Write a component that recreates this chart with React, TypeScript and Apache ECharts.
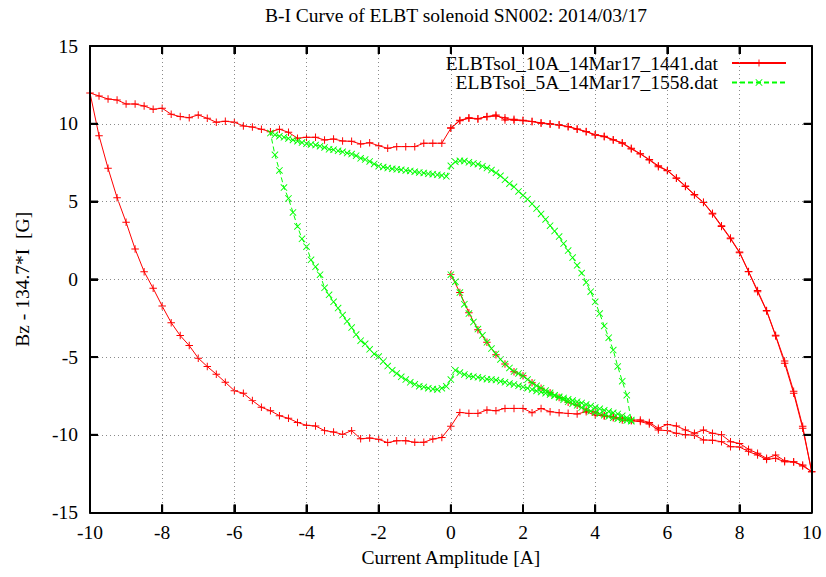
import React, { useEffect, useRef } from 'react';
import * as echarts from 'echarts';

const TITLE = 'B-I Curve of ELBT solenoid SN002: 2014/03/17';
const X_NAME = 'Current Amplitude [A]';
const Y_NAME = 'Bz - 134.7*I  [G]';
const RED_NAME = 'ELBTsol_10A_14Mar17_1441.dat';
const GREEN_NAME = 'ELBTsol_5A_14Mar17_1558.dat';
const X_TICKS = [-10, -8, -6, -4, -2, 0, 2, 4, 6, 8, 10];
const Y_TICKS = [-15, -10, -5, 0, 5, 10, 15];

// Red (10 A cycle): [current A, Bz - 134.7*I G]
const RED_VIRGIN = [[0,0.3],[0.25,-0.85],[0.5,-2.15],[0.75,-3.25],[1,-4.05],[1.25,-4.85],[1.5,-5.45],[1.75,-5.95],[2,-6.2],[2.25,-6.65],[2.5,-7.0],[2.75,-7.3],[3,-7.6],[3.25,-7.9],[3.5,-8.1],[3.75,-8.4],[4,-8.55],[4.25,-8.75],[4.5,-8.9],[4.75,-9.05],[5,-9.1],[5.25,-9.15],[5.5,-9.3],[5.75,-9.69],[6,-9.73],[6.25,-9.9],[6.5,-10.0],[6.75,-10.02],[7,-10.33],[7.25,-10.35],[7.5,-10.44],[7.75,-10.76],[8,-10.78],[8.25,-11.08],[8.5,-11.3],[8.75,-11.58],[9,-11.51],[9.25,-11.73],[9.5,-11.75],[9.75,-11.94],[10,-12.37]];
const RED_DOWN_1 = [[9.75,-9.58],[9.5,-7.33],[9.25,-5.4],[9,-3.65],[8.75,-2.04],[8.5,-0.8],[8.25,0.49],[8,1.71],[7.75,2.6],[7.5,3.4],[7.25,4.2],[7,4.93],[6.75,5.42],[6.5,5.96],[6.25,6.49],[6,6.98],[5.75,7.24],[5.5,7.67],[5.25,8.06],[5,8.38],[4.75,8.75],[4.5,8.96],[4.25,9.17],[4,9.28],[3.75,9.49],[3.5,9.65],[3.25,9.81],[3,9.92],[2.75,9.97],[2.5,10.03],[2.25,10.14],[2,10.2],[1.75,10.29],[1.5,10.24],[1.25,10.57],[1,10.46],[0.75,10.31],[0.5,10.35],[0.25,10.2],[0,9.71]];
const RED_UPPER_LEFT = [[-0.25,8.75],[-0.5,8.75],[-0.75,8.75],[-1,8.53],[-1.25,8.53],[-1.5,8.53],[-1.75,8.42],[-2,8.59],[-2.25,8.78],[-2.5,8.7],[-2.75,8.87],[-3,8.89],[-3.25,9.02],[-3.5,8.96],[-3.75,9.13],[-4,9.13],[-4.25,9.07],[-4.5,9.45],[-4.75,9.65],[-5,9.49],[-5.25,9.65],[-5.5,9.79],[-5.75,9.86],[-6,10.1],[-6.25,10.16],[-6.5,10.1],[-6.75,10.35],[-7,10.57],[-7.25,10.39],[-7.5,10.46],[-7.75,10.61],[-8,11.0],[-8.25,10.93],[-8.5,11.14],[-8.75,11.27],[-9,11.27],[-9.25,11.53],[-9.5,11.59],[-9.75,11.79],[-10,11.98]];
const RED_LOWER_LEFT = [[-9.75,9.23],[-9.5,7.14],[-9.25,5.25],[-9,3.67],[-8.75,1.95],[-8.5,0.49],[-8.25,-0.58],[-8,-1.72],[-7.75,-2.79],[-7.5,-3.62],[-7.25,-4.26],[-7,-5.07],[-6.75,-5.61],[-6.5,-6.1],[-6.25,-6.62],[-6,-7.16],[-5.75,-7.33],[-5.5,-7.8],[-5.25,-8.23],[-5,-8.45],[-4.75,-8.77],[-4.5,-8.94],[-4.25,-9.2],[-4,-9.39],[-3.75,-9.43],[-3.5,-9.73],[-3.25,-9.82],[-3,-9.97],[-2.75,-9.73],[-2.5,-10.25],[-2.25,-10.21],[-2,-10.29],[-1.75,-10.5],[-1.5,-10.38],[-1.25,-10.38],[-1,-10.48],[-0.75,-10.48],[-0.5,-10.27],[-0.25,-10.17],[0,-9.45]];
const RED_LOWER_RIGHT = [[0.25,-8.56],[0.5,-8.62],[0.75,-8.62],[1,-8.4],[1.25,-8.45],[1.5,-8.3],[1.75,-8.3],[2,-8.3],[2.25,-8.58],[2.5,-8.3],[2.75,-8.51],[3,-8.58],[3.25,-8.62],[3.5,-8.66],[3.75,-8.51],[4,-8.73],[4.25,-8.79],[4.5,-8.83],[4.75,-8.94],[5,-9.05],[5.25,-9.05],[5.5,-9.2],[5.75,-9.58],[6,-9.33],[6.25,-9.43],[6.5,-9.69],[6.75,-9.9],[7,-9.69],[7.25,-9.9],[7.5,-10.0],[7.75,-10.44],[8,-10.55],[8.25,-10.93],[8.5,-11.19],[8.75,-11.51],[9,-11.3],[9.25,-11.67],[9.5,-11.73],[9.75,-12.0],[10,-12.37]];
const RED_DOWN_2 = [[9.75,-9.45],[9.5,-7.2],[9.25,-5.25],[9,-3.6],[8.75,-2.0],[8.5,-0.72],[8.25,0.5],[8,1.75],[7.75,2.65],[7.5,3.45],[7.25,4.25],[7,4.95],[6.75,5.45],[6.5,6.0],[6.25,6.52],[6,7.0],[5.75,7.3],[5.5,7.7],[5.25,8.08],[5,8.42],[4.75,8.78],[4.5,8.98],[4.25,9.2],[4,9.3],[3.75,9.5],[3.5,9.67],[3.25,9.82],[3,9.93],[2.75,10.0],[2.5,10.06],[2.25,10.15],[2,10.22],[1.75,10.22],[1.5,10.38],[1.25,10.5],[1,10.45],[0.75,10.33],[0.5,10.38],[0.25,10.22],[0,9.75]];

// Green (5 A cycle)
const GREEN_VIRGIN = [[0,0.3],[0.125,-0.15],[0.25,-0.85],[0.375,-1.6],[0.5,-2.2],[0.625,-2.75],[0.75,-3.2],[0.875,-3.6],[1,-4.05],[1.125,-4.45],[1.25,-4.8],[1.375,-5.15],[1.5,-5.45],[1.625,-5.7],[1.75,-5.93],[1.875,-6.05],[2,-6.2],[2.125,-6.45],[2.25,-6.65],[2.375,-6.85],[2.5,-7.0],[2.625,-7.15],[2.75,-7.3],[2.875,-7.45],[3,-7.6],[3.125,-7.75],[3.25,-7.88],[3.375,-8.0],[3.5,-8.1],[3.625,-8.25],[3.75,-8.38],[3.875,-8.48],[4,-8.56],[4.125,-8.65],[4.25,-8.74],[4.375,-8.82],[4.5,-8.9],[4.625,-8.96],[4.75,-9.03],[4.875,-9.08],[5,-9.12]];
const GREEN_DOWN = [[4.875,-7.45],[4.75,-6.55],[4.625,-5.6],[4.5,-4.55],[4.375,-3.75],[4.25,-3.0],[4.125,-2.2],[4,-1.45],[3.875,-0.8],[3.75,-0.2],[3.625,0.4],[3.5,0.9],[3.375,1.4],[3.25,1.85],[3.125,2.3],[3,2.75],[2.875,3.1],[2.75,3.45],[2.625,3.85],[2.5,4.2],[2.375,4.55],[2.25,4.85],[2.125,5.15],[2,5.4],[1.875,5.65],[1.75,5.95],[1.625,6.15],[1.5,6.4],[1.375,6.65],[1.25,6.85],[1.125,7.02],[1,7.15],[0.875,7.27],[0.75,7.4],[0.625,7.45],[0.5,7.52],[0.375,7.6],[0.25,7.62],[0.125,7.55],[0,7.3]];
const GREEN_UPPER_LEFT = [[-0.125,6.62],[-0.25,6.68],[-0.375,6.72],[-0.5,6.76],[-0.625,6.78],[-0.75,6.84],[-0.875,6.87],[-1,6.92],[-1.125,6.97],[-1.25,7.0],[-1.375,7.04],[-1.5,7.07],[-1.625,7.1],[-1.75,7.15],[-1.875,7.22],[-2,7.27],[-2.125,7.42],[-2.25,7.58],[-2.375,7.7],[-2.5,7.78],[-2.625,7.95],[-2.75,8.05],[-2.875,8.12],[-3,8.2],[-3.125,8.26],[-3.25,8.33],[-3.375,8.36],[-3.5,8.48],[-3.625,8.56],[-3.75,8.63],[-3.875,8.67],[-4,8.72],[-4.125,8.79],[-4.25,8.88],[-4.375,8.96],[-4.5,9.06],[-4.625,9.13],[-4.75,9.2],[-4.875,9.29],[-5,9.4]];
const GREEN_LEFT_DOWN = [[-4.875,8.0],[-4.75,7.0],[-4.625,5.9],[-4.5,5.2],[-4.375,4.3],[-4.25,3.4],[-4.125,2.6],[-4,2.1],[-3.875,1.25],[-3.75,0.8],[-3.625,0.3],[-3.5,-0.55],[-3.375,-1.0],[-3.25,-1.45],[-3.125,-1.85],[-3,-2.3],[-2.875,-2.7],[-2.75,-3.1],[-2.625,-3.55],[-2.5,-3.95],[-2.375,-4.15],[-2.25,-4.5],[-2.125,-4.8],[-2,-4.97],[-1.875,-5.28],[-1.75,-5.58],[-1.625,-5.85],[-1.5,-6.05],[-1.375,-6.27],[-1.25,-6.45],[-1.125,-6.62],[-1,-6.75],[-0.875,-6.87],[-0.75,-6.92],[-0.625,-7.0],[-0.5,-7.06],[-0.375,-7.08],[-0.25,-7.0],[-0.125,-6.88],[0,-6.45]];
const GREEN_LOWER_RIGHT = [[0.125,-5.85],[0.25,-6.0],[0.375,-6.12],[0.5,-6.22],[0.625,-6.26],[0.75,-6.3],[0.875,-6.36],[1,-6.42],[1.125,-6.45],[1.25,-6.48],[1.375,-6.56],[1.5,-6.62],[1.625,-6.7],[1.75,-6.76],[1.875,-6.85],[2,-6.92],[2.125,-7.0],[2.25,-7.08],[2.375,-7.18],[2.5,-7.25],[2.625,-7.32],[2.75,-7.4],[2.875,-7.48],[3,-7.55],[3.125,-7.63],[3.25,-7.72],[3.375,-7.8],[3.5,-7.87],[3.625,-7.95],[3.75,-8.05],[3.875,-8.15],[4,-8.25],[4.125,-8.33],[4.25,-8.42],[4.375,-8.5],[4.5,-8.58],[4.625,-8.66],[4.75,-8.78],[4.875,-8.9],[5,-9.05]];

const FONT = 'Liberation Serif, Times New Roman, serif';
const FS = 19.5;
const RED = '#ff0000';
const GREEN = '#00ff00';
const PLUS = 'path://M4.35,0H5.65V10H4.35Z M0,4.35H10V5.65H0Z';
const CROSS = 'path://M0.9,0L10,9.1L9.1,10L0,0.9Z M9.1,0L10,0.9L0.9,10L0,9.1Z';
const TICK_LEN = 8;
const TICK_W = 2;

export default function App() {
  const ref = useRef<HTMLDivElement>(null);
  useEffect(() => {
    const chart = echarts.init(ref.current!, null, { renderer: 'svg' });
    const redData = [...RED_VIRGIN, ...RED_DOWN_1, ...RED_UPPER_LEFT, ...RED_LOWER_LEFT, ...RED_LOWER_RIGHT, ...RED_DOWN_2];
    const greenData = [...GREEN_VIRGIN, ...GREEN_DOWN, ...GREEN_UPPER_LEFT, ...GREEN_LEFT_DOWN, ...GREEN_LOWER_RIGHT];
    const yMin = Y_TICKS[0];
    const yMax = Y_TICKS[Y_TICKS.length - 1];
    const xMin = X_TICKS[0];
    const xMax = X_TICKS[X_TICKS.length - 1];
    const label = { color: '#000', fontSize: FS, fontFamily: FONT };
    const split = { show: true, lineStyle: { color: '#8a8a8a', type: [1, 3], width: 1 } };
    const tick = { show: true, inside: true, length: TICK_LEN, lineStyle: { color: '#000', width: TICK_W } };
    const axisLine = { show: true, onZero: false, lineStyle: { color: '#000', width: 2 } };
    const legendBase = {
      orient: 'horizontal',
      align: 'right',
      right: 39,
      padding: 0,
      itemWidth: 54,
      itemHeight: 9,
      selectedMode: false,
      textStyle: { color: '#000', fontSize: FS, fontFamily: FONT, padding: [0, 9, 0, 0] },
    };
    chart.setOption({
      animation: false,
      backgroundColor: '#fff',
      textStyle: { fontFamily: FONT },
      title: {
        text: TITLE,
        left: 451,
        top: 0,
        textAlign: 'center',
        textStyle: { color: '#000', fontSize: FS, fontWeight: 'normal', fontFamily: FONT },
      },
      legend: [
        { ...legendBase, top: 53, data: [RED_NAME] },
        { ...legendBase, top: 72.5, data: [GREEN_NAME] },
      ],
      grid: { left: 90, right: 14.3, top: 46, bottom: 64.4, show: false },
      xAxis: [
        {
          type: 'value', min: xMin, max: xMax, interval: 2, position: 'bottom', z: 6,
          axisLine, axisTick: tick,
          axisLabel: { ...label, margin: 10 },
          splitLine: split,
          name: X_NAME, nameLocation: 'middle', nameGap: 28,
          nameTextStyle: { color: '#000', fontSize: FS, fontFamily: FONT },
        },
        {
          type: 'value', min: xMin, max: xMax, interval: 2, position: 'top', z: 6,
          axisLine, axisTick: tick, axisLabel: { show: false }, splitLine: { show: false },
        },
      ],
      yAxis: [
        {
          type: 'value', min: yMin, max: yMax, interval: 5, position: 'left', z: 6,
          axisLine, axisTick: tick,
          axisLabel: { ...label, margin: 12 },
          splitLine: split,
          name: Y_NAME, nameLocation: 'middle', nameGap: 58,
          nameTextStyle: { color: '#000', fontSize: FS, fontFamily: FONT },
        },
        {
          type: 'value', min: yMin, max: yMax, interval: 5, position: 'right', z: 6,
          axisLine, axisTick: tick, axisLabel: { show: false }, splitLine: { show: false },
        },
      ],
      series: [
        {
          name: RED_NAME, type: 'line', data: redData, xAxisIndex: 0, yAxisIndex: 0,
          symbol: PLUS, symbolSize: 7.5, showSymbol: true, showAllSymbol: true,
          color: RED, itemStyle: { color: RED }, lineStyle: { color: RED, width: 1 },
          silent: true, emphasis: { disabled: true }, z: 2,
        },
        {
          name: GREEN_NAME, type: 'line', data: greenData, xAxisIndex: 0, yAxisIndex: 0,
          symbol: CROSS, symbolSize: 7, showSymbol: true, showAllSymbol: true,
          color: GREEN, itemStyle: { color: GREEN }, lineStyle: { color: GREEN, width: 1, type: [5, 3] },
          silent: true, emphasis: { disabled: true }, z: 3,
        },
        {
          name: 'ticks', type: 'custom', xAxisIndex: 0, yAxisIndex: 0, silent: true, z: 10, clip: false,
          data: [...X_TICKS.slice(1, -1).map((v) => [v, 0, 0]), ...Y_TICKS.slice(1, -1).map((v) => [0, v, 1])],
          renderItem: (_params: any, api: any) => {
            const isY = api.value(2) === 1;
            const h = TICK_W / 2;
            if (!isY) {
              const v = api.value(0);
              const b = api.coord([v, yMin]);
              const t = api.coord([v, yMax]);
              return {
                type: 'group',
                children: [
                  { type: 'rect', shape: { x: b[0] - h, y: b[1] - TICK_LEN, width: TICK_W, height: TICK_LEN }, style: { fill: '#000' } },
                  { type: 'rect', shape: { x: t[0] - h, y: t[1], width: TICK_W, height: TICK_LEN }, style: { fill: '#000' } },
                ],
              };
            }
            const v = api.value(1);
            const l = api.coord([xMin, v]);
            const r = api.coord([xMax, v]);
            return {
              type: 'group',
              children: [
                { type: 'rect', shape: { x: l[0], y: l[1] - h, width: TICK_LEN, height: TICK_W }, style: { fill: '#000' } },
                { type: 'rect', shape: { x: r[0] - TICK_LEN, y: r[1] - h, width: TICK_LEN, height: TICK_W }, style: { fill: '#000' } },
              ],
            };
          },
        },
      ],
    });
    return () => chart.dispose();
  }, []);
  return <div ref={ref} style={{ position: 'fixed', left: 0, top: 0, width: 826, height: 577, background: '#fff' }} />;
}
